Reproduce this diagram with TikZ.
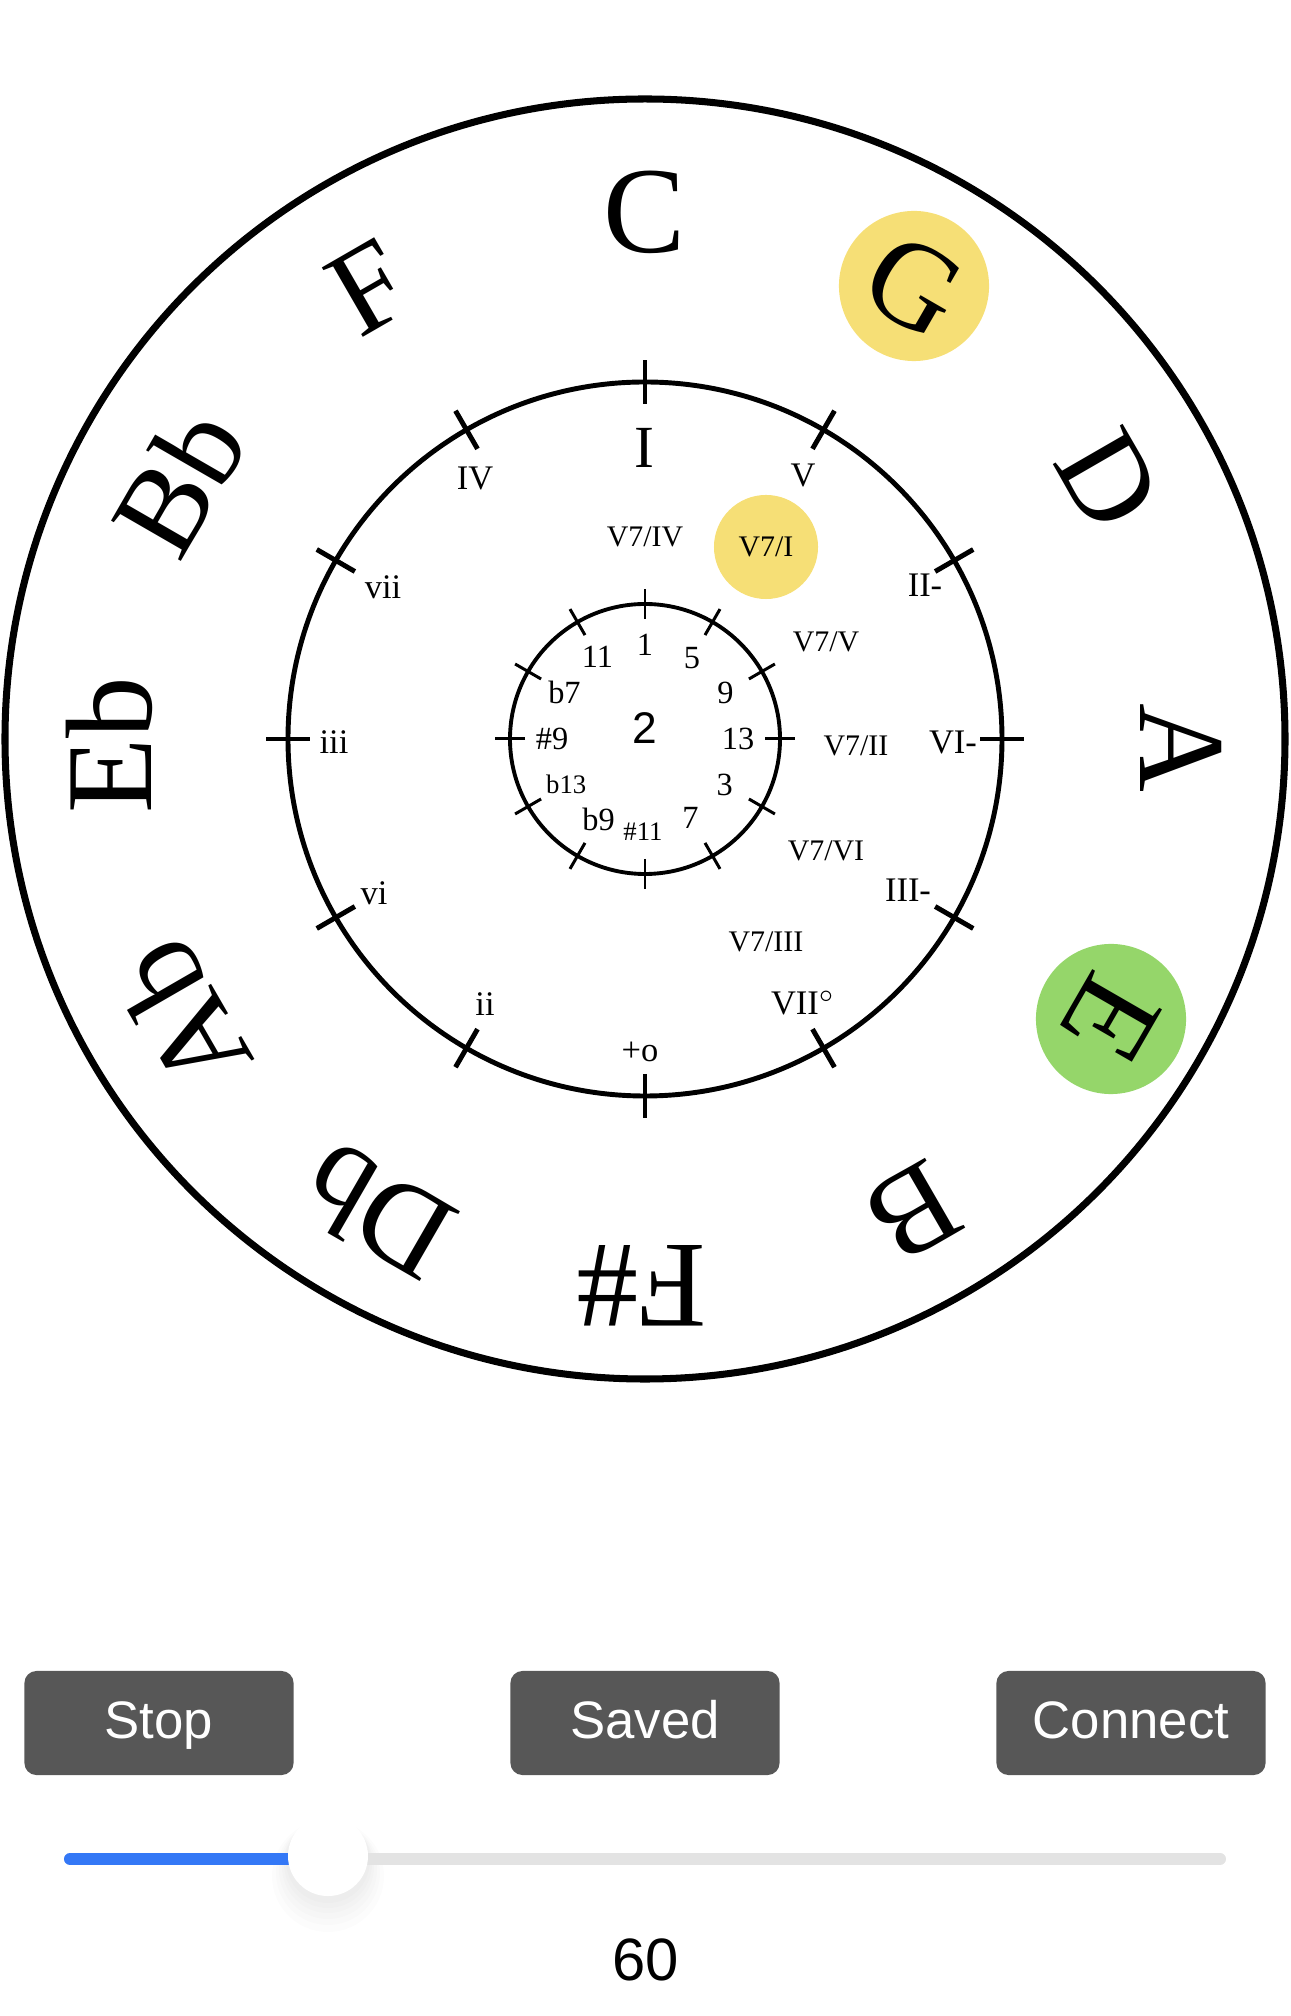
\documentclass[tikz,border=0pt]{standalone}
\usepackage{fontspec}
\setmainfont{Liberation Serif}
\newfontfamily\uifont{Liberation Sans}
\definecolor{keyyellow}{RGB}{246,223,118}
\definecolor{keygreen}{RGB}{149,214,106}
\definecolor{btngray}{RGB}{87,87,87}
\definecolor{sliderblue}{RGB}{52,120,246}
\definecolor{slidergray}{RGB}{227,227,227}
\begin{document}
\begin{tikzpicture}[x=0.01cm, y=0.01cm,
		key/.style={inner sep=0pt, font=\fontsize{35}{36}\selectfont},
		hit/.style={circle, fill=#1, minimum size=1.5cm},
		deg/.style={inner sep=0pt, font=\fontsize{9.8}{11}\selectfont},
		sec/.style={inner sep=0pt, font=\fontsize{8.5}{10}\selectfont},
		ext/.style={inner sep=0pt, font=\fontsize{9.2}{11}\selectfont},
		extsmall/.style={inner sep=0pt, font=\fontsize{7.6}{9}\selectfont},
		mtick/.style={line width=1.4pt},
		itick/.style={line width=0.85pt},
		halo/.style={black, opacity=0.012},
		btn/.style={fill=btngray, rounded corners=0.12cm, minimum width=2.69cm, minimum height=1.04cm, text=white, text height=0.86em, text depth=0pt, font=\uifont\fontsize{15}{18}\selectfont}]
		\useasboundingbox (-645,-1277) rectangle (645,739);
		\draw[line width=2pt] (0,0) circle (640);
		\draw[line width=1.4pt] (0,0) circle (357);
		\draw[line width=1.1pt] (0,0) circle (135);
		\draw[mtick] (90:335) -- (90:379);
		\draw[mtick] (60:335) -- (60:379);
		\draw[mtick] (30:335) -- (30:379);
		\draw[mtick] (0:335) -- (0:379);
		\draw[mtick] (-30:335) -- (-30:379);
		\draw[mtick] (-60:335) -- (-60:379);
		\draw[mtick] (-90:335) -- (-90:379);
		\draw[mtick] (-120:335) -- (-120:379);
		\draw[mtick] (-150:335) -- (-150:379);
		\draw[mtick] (180:335) -- (180:379);
		\draw[mtick] (150:335) -- (150:379);
		\draw[mtick] (120:335) -- (120:379);
		\draw[itick] (90:120) -- (90:150);
		\draw[itick] (60:120) -- (60:150);
		\draw[itick] (30:120) -- (30:150);
		\draw[itick] (0:120) -- (0:150);
		\draw[itick] (-30:120) -- (-30:150);
		\draw[itick] (-60:120) -- (-60:150);
		\draw[itick] (-90:120) -- (-90:150);
		\draw[itick] (-120:120) -- (-120:150);
		\draw[itick] (-150:120) -- (-150:150);
		\draw[itick] (180:120) -- (180:150);
		\draw[itick] (150:120) -- (150:150);
		\draw[itick] (120:120) -- (120:150);
		\node[key] (keyC) at (0,527) {C};
		\node[key, hit=keyyellow, rotate=-30] (keyG) at (269,453) {G};
		\node[key, rotate=-60] (keyD) at (464,259) {D};
		\node[key, rotate=-90] (keyA) at (536,-9) {A};
		\node[key, hit=keygreen, rotate=-120] (keyE) at (466,-280) {E};
		\node[key, rotate=-150] (keyB) at (268,-473) {B};
		\node[key, rotate=180] (keyFs) at (-3,-547) {F\#};
		\node[key, rotate=150] (keyDb) at (-268,-473) {Db};
		\node[key, rotate=120] (keyAb) at (-464,-277) {Ab};
		\node[key, rotate=90] (keyEb) at (-536,-6) {Eb};
		\node[key, rotate=60] (keyBb) at (-466,258) {Bb};
		\node[key, rotate=30] (keyF) at (-276,451) {F};
		\node[inner sep=0pt, font=\fontsize{17}{20}\selectfont] (degI) at (-1,291) {I};
		\node[deg] (degV) at (158,264) {V};
		\node[deg] (degII) at (280,154) {II-};
		\node[deg] (degVI) at (308,-3) {VI-};
		\node[deg] (degIII) at (263,-151) {III-};
		\node[deg] (degVII) at (158,-264) {VII$^{\circ}$};
		\node[deg] (degaug) at (-5,-313) {+o};
		\node[deg] (degii) at (-160,-265) {ii};
		\node[deg] (degvi) at (-271,-154) {vi};
		\node[deg] (degiii) at (-311,-3) {iii};
		\node[deg] (degvii) at (-262,152) {vii};
		\node[deg] (degIV) at (-170,261) {IV};
		\node[sec] (secIV) at (0,202) {V7/IV};
		\node[sec, circle, fill=keyyellow, minimum size=1.04cm] (secI) at (121,192) {V7/I};
		\node[sec] (secV) at (181,97) {V7/V};
		\node[sec] (secII) at (211,-7) {V7/II};
		\node[sec] (secVI) at (181,-112) {V7/VI};
		\node[sec] (secIII) at (121,-203) {V7/III};
		\node[ext] (ext1) at (90:94) {1};
		\node[ext] (ext5) at (60:94) {5};
		\node[ext] (ext9) at (30:93) {9};
		\node[ext] (ext13) at (0:93) {13};
		\node[ext] (ext3) at (-30:92) {3};
		\node[ext] (ext7) at (-60:91) {7};
		\node[extsmall] (extsharp11) at (-2,-93) {\#11};
		\node[ext] (extb9) at (-120:93) {b9};
		\node[extsmall] (extb13) at (-150:91) {b13};
		\node[ext] (extsharp9) at (180:93) {\#9};
		\node[ext] (extb7) at (150:93) {b7};
		\node[ext] (ext11) at (120:95) {11};
		\node[inner sep=0pt, font=\uifont\fontsize{12.6}{14}\selectfont] (fret) at (0,11) {2};
		\node[btn] (stop) at (-486,-984) {Stop};
		\node[btn] (saved) at (0,-984) {Saved};
		\node[btn] (connect) at (486,-984) {Connect};
		\coordinate (trackL) at (-575,-1120);
		\coordinate (trackR) at (575,-1120);
		\fill[halo] (-317,-1137) circle (56);
		\fill[halo] (-317,-1134) circle (52);
		\fill[halo] (-317,-1131) circle (49);
		\fill[halo] (-317,-1128) circle (46);
		\fill[halo] (-317,-1125) circle (44);
		\fill[halo] (-317,-1122) circle (42);
		\node[circle, inner sep=0pt, minimum size=0.8cm] (knob) at (-317,-1117) {};
		\draw[slidergray, line width=0.12cm, line cap=round] (knob.center |- trackL) -- (trackR);
		\draw[sliderblue, line width=0.12cm, line cap=round] (trackL) -- (knob.center |- trackL);
		\fill[white] (knob.center) circle (40);
		\node[inner sep=0pt, font=\uifont\fontsize{17}{20}\selectfont] (tempo) at (1,-1221) {60};
	\end{tikzpicture}
\end{document}
